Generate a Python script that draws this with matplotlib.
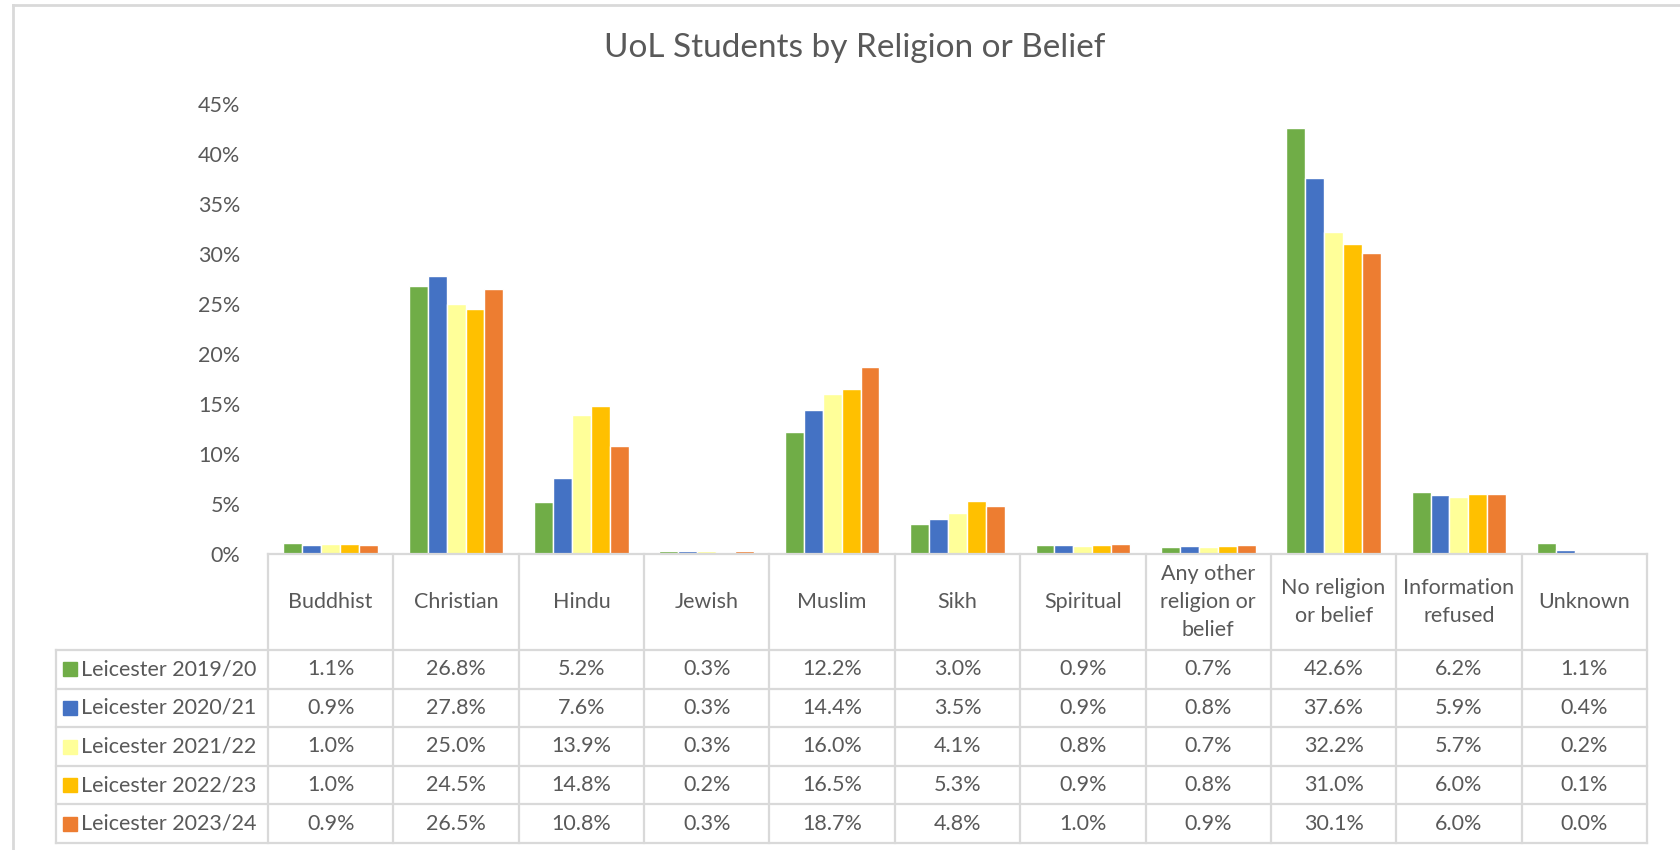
import numpy as np
import matplotlib
matplotlib.use("Agg")
import matplotlib.pyplot as plt
from matplotlib.transforms import blended_transform_factory
from matplotlib.lines import Line2D

plt.rcParams['font.family'] = ['Lato', 'DejaVu Sans']

# data (percent of students)
categories = ["Buddhist", "Christian", "Hindu", "Jewish", "Muslim", "Sikh", "Spiritual",
              "Any other\nreligion or\nbelief", "No religion\nor belief", "Information\nrefused", "Unknown"]
series_names = ["Leicester 2019/20", "Leicester 2020/21", "Leicester 2021/22",
                "Leicester 2022/23", "Leicester 2023/24"]
y2019 = [1.1, 26.8, 5.2, 0.3, 12.2, 3.0, 0.9, 0.7, 42.6, 6.2, 1.1]
y2020 = [0.9, 27.8, 7.6, 0.3, 14.4, 3.5, 0.9, 0.8, 37.6, 5.9, 0.4]
y2021 = [1.0, 25.0, 13.9, 0.3, 16.0, 4.1, 0.8, 0.7, 32.2, 5.7, 0.2]
y2022 = [1.0, 24.5, 14.8, 0.2, 16.5, 5.3, 0.9, 0.8, 31.0, 6.0, 0.1]
y2023 = [0.9, 26.5, 10.8, 0.3, 18.7, 4.8, 1.0, 0.9, 30.1, 6.0, 0.0]
values = [y2019, y2020, y2021, y2022, y2023]
colors = ["#70AD47", "#4472C4", "#FFFF99", "#FFC000", "#ED7D31"]
yticks = [0, 5, 10, 15, 20, 25, 30, 35, 40, 45]

txt = "#595959"
grid = "#D9D9D9"
W, H = 1680, 850
fs = 15.5

fig = plt.figure(figsize=(W / 100, H / 100), dpi=100)
ax = fig.add_axes([268 / W, 1 - 554 / H, (1647 - 268) / W, (554 - 104) / H])

x = np.arange(len(categories))
bw = 0.151
for i, (vals, c) in enumerate(zip(values, colors)):
    ax.bar(x + (i - 2) * bw, vals, width=bw, color=c, edgecolor="white", linewidth=1.0)

ax.set_xlim(-0.5, len(categories) - 0.5)
ax.set_ylim(0, 45)
ax.set_yticks(yticks)
ax.set_yticklabels([f"{t}%" for t in yticks], color=txt, fontsize=fs)
ax.tick_params(axis="y", length=0, pad=20)
ax.set_xticks([])
for s in ax.spines.values():
    s.set_visible(False)

# data table under the plot
trans = blended_transform_factory(ax.transData, ax.transAxes)
hh = 96 / 450
rh = 38.6 / 450
x_left = -0.5 - (268 - 56) / 125.4
x_right = len(categories) - 0.5
bottom = -hh - 5 * rh
lkw = dict(color=grid, lw=1.6, transform=trans, clip_on=False)

ax.plot([-0.5, x_right], [0, 0], **lkw)
for k in range(6):
    ax.plot([x_left, x_right], [-hh - k * rh] * 2, **lkw)
for j in range(len(categories) + 1):
    ax.plot([j - 0.5] * 2, [0, bottom], **lkw)
ax.plot([x_left] * 2, [-hh, bottom], **lkw)

for j, cat in enumerate(categories):
    ax.text(j, -hh / 2, cat, transform=trans, ha="center", va="center",
            fontsize=fs, color=txt, linespacing=1.5)

for k, (name, vals, c) in enumerate(zip(series_names, values, colors)):
    yc = -hh - (k + 0.5) * rh
    ax.plot([x_left + 0.115], [yc], marker="s", markersize=10, color=c,
            transform=trans, clip_on=False)
    ax.text(x_left + 0.2, yc, name, transform=trans, ha="left", va="center",
            fontsize=fs, color=txt)
    for j, v in enumerate(vals):
        ax.text(j, yc, f"{v:.1f}%", transform=trans, ha="center", va="center",
                fontsize=fs, color=txt)

fig.text(855 / W, 1 - 48 / H, "UoL Students by Religion or Belief", ha="center", va="center",
         fontsize=24, color=txt)

# chart frame (top and left edges visible)
fig.add_artist(Line2D([13 / W, 1], [1 - 5 / H] * 2, color=grid, lw=2))
fig.add_artist(Line2D([13 / W] * 2, [0, 1 - 5 / H], color=grid, lw=2))

fig.savefig("out.png", dpi=100, facecolor="white")
